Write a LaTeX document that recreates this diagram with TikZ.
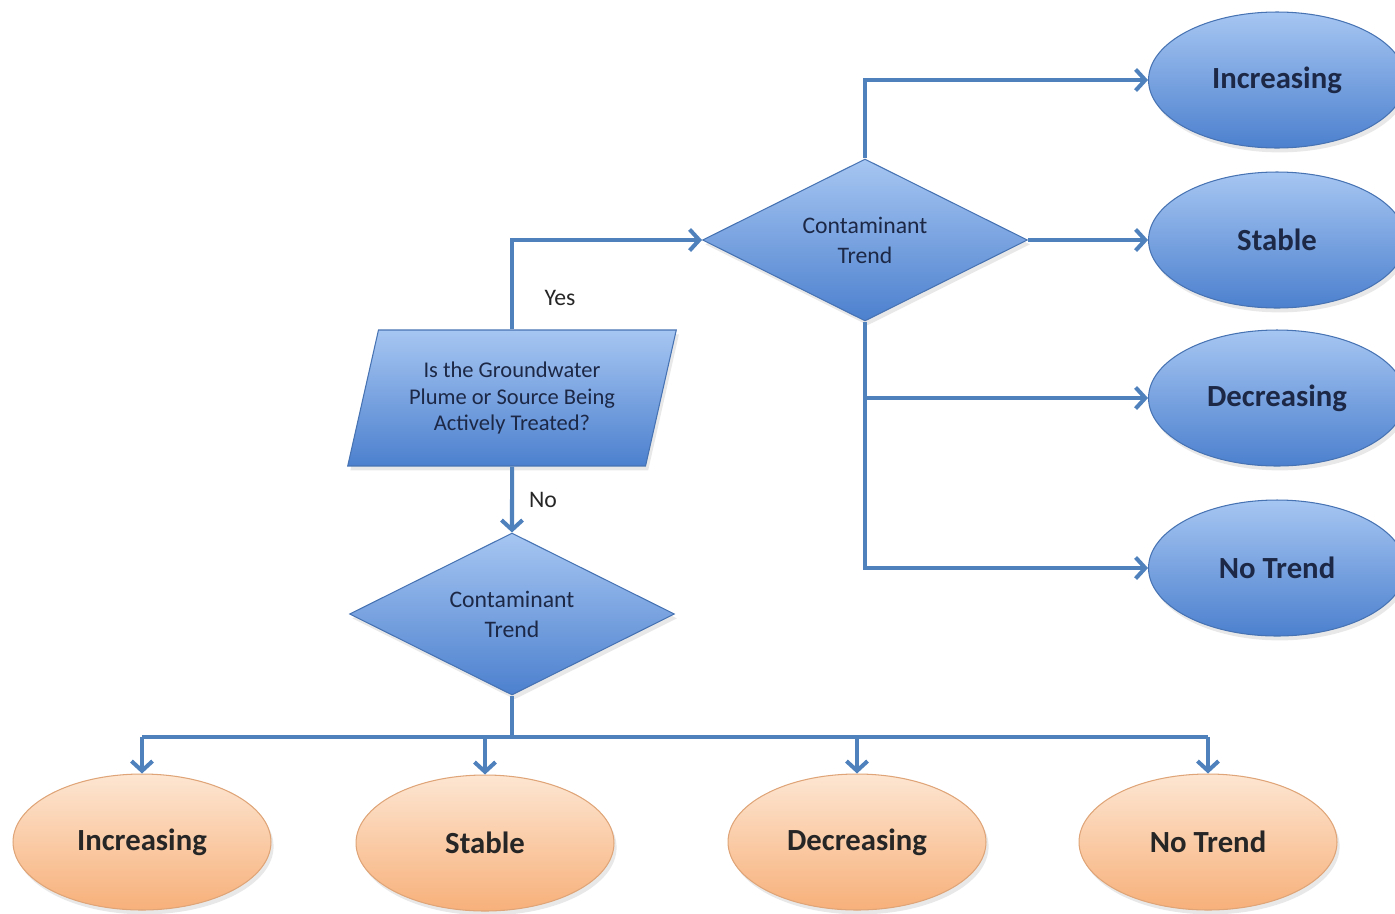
\documentclass[tikz,border=0pt]{standalone}
\usepackage{fontspec}
\setmainfont{Carlito}
\usetikzlibrary{arrows.meta,shapes.geometric,shadows}

\definecolor{lineblue}{HTML}{4F81BD}
\definecolor{edgeblue}{HTML}{4773B3}
\definecolor{topblue}{HTML}{A6C6F2}
\definecolor{botblue}{HTML}{4C80CE}
\definecolor{toporange}{HTML}{FDE6D2}
\definecolor{botorange}{HTML}{F7B07A}
\definecolor{edgeorange}{HTML}{DFA578}
\definecolor{textnavy}{HTML}{1C2846}

\tikzset{
  link/.style={line width=2.3pt, draw=lineblue},
  flow/.style={link, -{Straight Barb[length=5.5pt,width=12pt]}},
  softshadow/.style={drop shadow={opacity=0.18, shadow xshift=1.5pt, shadow yshift=-2.5pt}},
  decision/.style={diamond, aspect=2, inner sep=0pt, minimum width=6.5cm, minimum height=3.24cm,
    draw=edgeblue, line width=0.6pt, top color=topblue, bottom color=botblue, softshadow,
    font=\fontsize{13.5}{17}\selectfont, text=textnavy, align=center},
  query/.style={trapezium, trapezium left angle=72, trapezium right angle=108, trapezium stretches=true,
    inner sep=0pt, minimum width=6.58cm, minimum height=2.72cm,
    draw=edgeblue, line width=0.6pt, top color=topblue, bottom color=botblue, softshadow,
    font=\fontsize{12.8}{15.3}\selectfont, text=textnavy, align=center},
  blueend/.style={ellipse, inner sep=0pt, minimum width=5.14cm, minimum height=2.72cm,
    draw=edgeblue, line width=0.6pt, top color=topblue, bottom color=botblue, softshadow,
    font=\fontsize{17.5}{20}\selectfont\bfseries, text=textnavy},
  orangeend/.style={ellipse, inner sep=0pt, minimum width=5.16cm, minimum height=2.72cm,
    draw=edgeorange, line width=0.6pt, top color=toporange, bottom color=botorange, softshadow,
    font=\fontsize{17.5}{20}\selectfont\bfseries, text=black!85},
  answer/.style={font=\fontsize{13.5}{16}\selectfont, text=black!85}
}

\begin{document}
\begin{tikzpicture}[x=0.02cm, y=-0.02cm]
		%%%%% START %%%%%
		\useasboundingbox (0, 0) rectangle (1395, 913);
		
		\node[query] (treated) at (512, 398) {Is the Groundwater\\Plume or Source Being\\Actively Treated?};
		\node[decision] (trendyes) at (865, 240) {Contaminant\\Trend};
		\node[decision] (trendno) at (512, 614) {Contaminant\\Trend};
		
		\node[blueend] (yinc) at (1277, 80) {Increasing};
		\node[blueend] (ysta) at (1277, 240) {Stable};
		\node[blueend] (ydec) at (1277, 398) {Decreasing};
		\node[blueend] (ynot) at (1277, 568) {No Trend};
		
		\node[orangeend] (ninc) at (142, 842) {Increasing};
		\node[orangeend] (nsta) at (485, 843) {Stable};
		\node[orangeend] (ndec) at (857, 842) {Decreasing};
		\node[orangeend] (nnot) at (1208, 842) {No Trend};
		
		\coordinate (hub) at (512, 737);
		
		\draw[flow] (treated.north) |- (trendyes.west);
		\node[answer] (yes) at (560, 298) {Yes};
		\draw[flow] (treated.south) -- (trendno.north);
		\node[answer] (no) at (543, 500) {No};
		
		\draw[flow] (trendyes.north) |- (yinc.west);
		\draw[flow] (trendyes.east) -- (ysta.west);
		\draw[flow] (trendyes.south) |- (ynot.west);
		\draw[flow] (trendyes.south |- ydec.west) -- (ydec.west);
		
		\draw[link] (trendno.south) -- (hub);
		\draw[link] (ninc.north |- hub) -- (nnot.north |- hub);
		\draw[flow] (ninc.north |- hub) -- (ninc.north);
		\draw[flow] (nsta.north |- hub) -- (nsta.north);
		\draw[flow] (ndec.north |- hub) -- (ndec.north);
		\draw[flow] (nnot.north |- hub) -- (nnot.north);
		
		%%%%% END %%%%%
\end{tikzpicture}
\end{document}
